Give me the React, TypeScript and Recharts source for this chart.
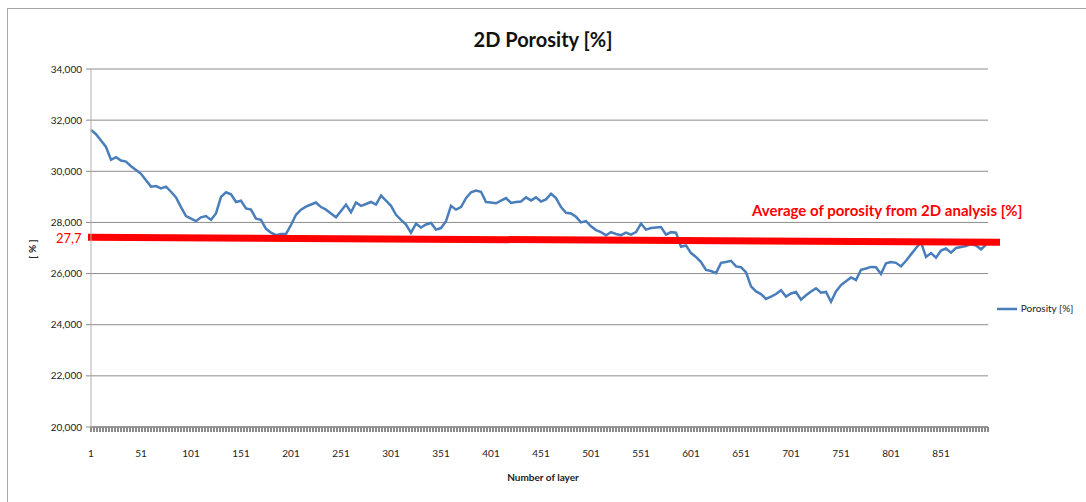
import React from "react";
import {
  CartesianGrid,
  Legend,
  Line,
  LineChart,
  ReferenceLine,
  XAxis,
  YAxis,
} from "recharts";

// porosity read every 5 layers, starting at layer 1
const LAYER_STEP = 5;
const porosity = [
  31.62, 31.45, 31.2, 30.95, 30.45, 30.55, 30.42, 30.38, 30.2, 30.05,
  29.9, 29.65, 29.4, 29.42, 29.33, 29.4, 29.2, 28.98, 28.6, 28.25,
  28.15, 28.05, 28.2, 28.25, 28.1, 28.35, 29.0, 29.18, 29.1, 28.8,
  28.85, 28.55, 28.5, 28.15, 28.1, 27.75, 27.6, 27.5, 27.55, 27.55,
  27.9, 28.3, 28.5, 28.62, 28.7, 28.78, 28.6, 28.5, 28.35, 28.2,
  28.45, 28.7, 28.4, 28.78, 28.65, 28.72, 28.8, 28.7, 29.05, 28.85,
  28.65, 28.3, 28.1, 27.92, 27.6, 27.95, 27.8, 27.92, 27.98, 27.72,
  27.78, 28.05, 28.65, 28.5, 28.6, 28.95, 29.18, 29.25, 29.2, 28.8,
  28.78, 28.75, 28.85, 28.95, 28.76, 28.8, 28.82, 28.98, 28.86, 28.98,
  28.82, 28.9, 29.12, 28.95, 28.6, 28.38, 28.35, 28.22, 28.0, 28.05,
  27.85, 27.7, 27.62, 27.5, 27.62, 27.55, 27.5, 27.6, 27.52, 27.62,
  27.95, 27.72, 27.78, 27.8, 27.82, 27.52, 27.62, 27.6, 27.05, 27.1,
  26.8, 26.65, 26.45, 26.14, 26.1, 26.02, 26.42, 26.45, 26.5, 26.28,
  26.25, 26.05, 25.5, 25.3, 25.2, 25.01, 25.1, 25.2, 25.35, 25.1,
  25.22, 25.28, 24.98, 25.15, 25.3, 25.42, 25.25, 25.28, 24.9, 25.3,
  25.55, 25.7, 25.85, 25.75, 26.15, 26.2, 26.26, 26.25, 25.98, 26.4,
  26.45, 26.42, 26.28, 26.5, 26.75, 27.0, 27.22, 26.65, 26.8, 26.62,
  26.9, 26.98, 26.82, 27.0, 27.04, 27.08, 27.15, 27.1, 26.95, 27.12,
];

const xTicks = [1, 51, 101, 151, 201, 251, 301, 351, 401, 451, 501, 551, 601, 651, 701, 751, 801, 851];
const yTicks = [20, 22, 24, 26, 28, 30, 32, 34];
// small tick marks along the category axis
const minorTicks = Array.from({ length: 300 }, (_, i) => 1 + i * 3);

// hand-drawn average bar (slightly tilted as in the original)
const averageLine = [
  { x: -2, y: 27.42 },
  { x: 910, y: 27.22 },
];

const rows = porosity.map((v, i) => ({ layer: 1 + i * LAYER_STEP, porosity: v }));

const FONT = "Lato, 'Open Sans', sans-serif";
const fmt = (v: number) => v.toFixed(3).replace(".", ",");
const noLabel = () => <g />;

export default function App() {
  return (
    <div
      style={{
        position: "fixed",
        left: 0,
        top: 0,
        width: 1086,
        height: 502,
        background: "#fff",
        fontFamily: FONT,
        overflow: "hidden",
      }}
    >
      <div
        style={{
          position: "absolute",
          left: 7,
          top: 8,
          width: 1100,
          height: 520,
          borderLeft: "1px solid #a6a6a6",
          borderTop: "1px solid #a6a6a6",
        }}
      />
      <LineChart
        width={1086}
        height={502}
        data={rows}
        margin={{ top: 69, right: 98, bottom: 44, left: 31 }}
        style={{ position: "absolute", left: 0, top: 0 }}
      >
        <CartesianGrid vertical={false} stroke="#8c8c8c" />
        <XAxis
          dataKey="layer"
          type="number"
          domain={[1, 898]}
          ticks={minorTicks}
          interval={0}
          height={1}
          axisLine={{ stroke: "#8c8c8c", strokeWidth: 1.5 }}
          tick={noLabel}
          tickSize={5}
          tickLine={{ stroke: "#8c8c8c", strokeWidth: 2 }}
        />
        <XAxis
          xAxisId="labels"
          dataKey="layer"
          type="number"
          domain={[1, 898]}
          ticks={xTicks}
          interval={0}
          height={30}
          tickLine={false}
          tickMargin={16}
          axisLine={false}
          tick={{ fontSize: 10, fill: "#222", fontFamily: FONT }}
        />
        <YAxis
          type="number"
          domain={[20, 34]}
          ticks={yTicks}
          interval={0}
          width={60}
          tickSize={5}
          tickMargin={4}
          tickFormatter={fmt}
          axisLine={{ stroke: "#b0b0b0" }}
          tickLine={{ stroke: "#8c8c8c" }}
          tick={{ fontSize: 10, fill: "#222", fontFamily: FONT }}
        />
        <Legend
          layout="horizontal"
          align="center"
          verticalAlign="middle"
          iconType="plainline"
          iconSize={20}
          wrapperStyle={{ left: 994, top: 299, width: 92, fontSize: 10, fontFamily: FONT }}
          formatter={(value) => <span style={{ color: "#222" }}>{value}</span>}
        />
        <Line
          type="linear"
          dataKey="porosity"
          name="Porosity [%]"
          stroke="#4a7ebb"
          strokeWidth={2.5}
          dot={false}
          isAnimationActive={false}
        />
        <ReferenceLine
          segment={averageLine}
          ifOverflow="visible"
          stroke="#ff0000"
          strokeWidth={7}
        />
      </LineChart>

      <div
        style={{
          position: "absolute",
          left: 0,
          width: 1086,
          top: 27,
          textAlign: "center",
          fontSize: 20,
          fontWeight: 700,
          color: "#111",
        }}
      >
        2D Porosity [%]
      </div>
      <div
        style={{
          position: "absolute",
          left: 0,
          width: 1086,
          top: 471,
          textAlign: "center",
          fontSize: 10,
          fontWeight: 700,
          color: "#222",
        }}
      >
        Number of layer
      </div>
      <div
        style={{
          position: "absolute",
          left: 12,
          top: 243,
          width: 40,
          textAlign: "center",
          fontSize: 10,
          fontWeight: 700,
          color: "#222",
          transform: "rotate(-90deg)",
        }}
      >
        [ % ]
      </div>
      <div
        style={{
          position: "absolute",
          left: 56,
          top: 230,
          fontSize: 13,
          color: "#ff0000",
        }}
      >
        27,7
      </div>
      <div
        style={{
          position: "absolute",
          left: 752,
          top: 201,
          fontSize: 15,
          fontWeight: 700,
          color: "#ff0000",
          whiteSpace: "nowrap",
        }}
      >
        Average of porosity from 2D analysis [%]
      </div>
    </div>
  );
}
